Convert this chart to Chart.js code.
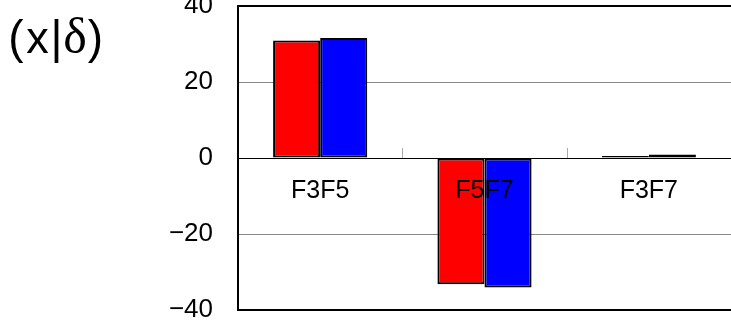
<!DOCTYPE html>
<html lang="ja">
<head>
    <meta charset="UTF-8">
    <title>(x|δ)</title>
    <style>
        body {
            margin: 0;
            background: #fff;
            overflow: hidden;
        }
        #wrap {
            position: relative;
            width: 731px;
            height: 335px;
        }
    </style>
</head>
<body>
    <div id="wrap">
        <canvas id="chart"></canvas>
    </div>

    <script src="https://cdn.jsdelivr.net/npm/chart.js"></script>
    <script>
        // data
        const categories = ['F3F5', 'F5F7', 'F3F7'];
        const redValues = [30.9, -33.2, 0.5];
        const blueValues = [31.6, -34.1, 0.9];
        const yTicks = [-40, -20, 0, 20, 40];

        const SANS = '"Liberation Sans", Arial, sans-serif';
        const SERIF = '"Liberation Serif", "Times New Roman", serif';

        // pieces of the "(x|δ)" axis label: text, font, centre x
        const titleParts = [
            ['(', '46px ' + SANS, 16],
            ['x', '45px ' + SANS, 37.5],
            ['|', '46px ' + SANS, 56.5],
            ['δ', '50px ' + SERIF, 75],
            [')', '46px ' + SANS, 95.5]
        ];

        const overlayPlugin = {
            id: 'overlay',
            afterDatasetsDraw(chart) {
                const ctx = chart.ctx;
                const x = chart.scales.x;
                const y = chart.scales.y;
                const zero = y.getPixelForValue(0);
                ctx.save();

                // little tick marks between categories on the zero line
                ctx.strokeStyle = '#aaa';
                ctx.lineWidth = 1;
                for (let i = 1; i < categories.length; i++) {
                    const bx = Math.round((x.getPixelForValue(i - 1) + x.getPixelForValue(i)) / 2) + 0.5;
                    ctx.beginPath();
                    ctx.moveTo(bx, zero - 10);
                    ctx.lineTo(bx, zero);
                    ctx.stroke();
                }

                // category labels under the zero line, on top of the bars
                ctx.fillStyle = '#000';
                ctx.font = '25px ' + SANS;
                ctx.textAlign = 'center';
                ctx.textBaseline = 'middle';
                categories.forEach((c, i) => {
                    ctx.fillText(c, x.getPixelForValue(i), zero + 33);
                });

                // axis label in the top left corner
                ctx.textBaseline = 'alphabetic';
                titleParts.forEach(([t, f, cx]) => {
                    ctx.font = f;
                    ctx.fillText(t, cx, 53);
                });
                ctx.restore();
            }
        };

        const ctx = document.getElementById('chart').getContext('2d');
        const chart = new Chart(ctx, {
            type: 'bar',
            data: {
                labels: categories,
                datasets: [
                    {
                        data: redValues,
                        backgroundColor: '#ff0000',
                        borderColor: '#000',
                        borderWidth: 2,
                        borderSkipped: false
                    },
                    {
                        data: blueValues,
                        backgroundColor: '#0000ff',
                        borderColor: '#000',
                        borderWidth: 2,
                        borderSkipped: false
                    }
                ]
            },
            options: {
                responsive: true,
                maintainAspectRatio: false,
                animation: false,
                layout: {
                    padding: { top: 6, bottom: 25, left: 0, right: 0 }
                },
                plugins: {
                    legend: { display: false },
                    tooltip: { enabled: false }
                },
                datasets: {
                    bar: {
                        categoryPercentage: 0.573,
                        barPercentage: 1
                    }
                },
                scales: {
                    x: {
                        display: false
                    },
                    y: {
                        min: -40,
                        max: 40,
                        afterBuildTicks: (scale) => {
                            scale.ticks = yTicks.map(v => ({ value: v }));
                        },
                        afterFit: (scale) => {
                            scale.width = 238;
                        },
                        ticks: {
                            padding: 0,
                            color: '#000',
                            font: { family: SANS, size: 26, lineHeight: 0.46 },
                            callback: (v) => String(v).replace('-', '\u2212')
                        },
                        grid: {
                            drawTicks: true,
                            tickLength: 25,
                            tickColor: 'rgba(0,0,0,0)',
                            color: (c) => (c.tick && Math.abs(c.tick.value) !== 20) ? '#000' : '#888',
                            lineWidth: (c) => (c.tick && Math.abs(c.tick.value) === 40) ? 2 : 1
                        },
                        border: {
                            display: true,
                            color: '#000',
                            width: 2
                        }
                    }
                }
            },
            plugins: [overlayPlugin]
        });
    </script>
</body>
</html>
